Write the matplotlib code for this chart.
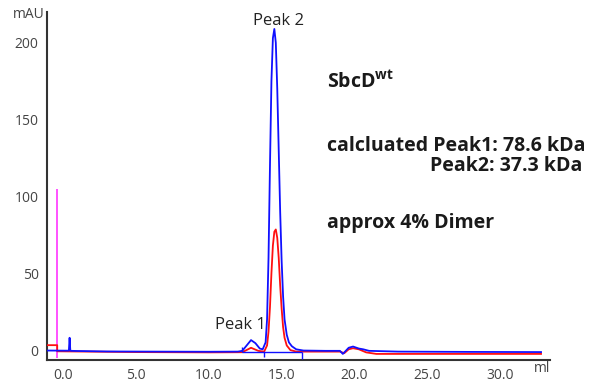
import numpy as np
import matplotlib.pyplot as plt

# blue trace (280 nm), ml vs mAU
blue_x = [-1.1, 0.40, 0.45, 0.50, 0.55, 1.0, 3.0, 6.0, 10.0, 12.0, 12.3, 12.6, 12.9, 13.2, 13.5,
          13.7, 13.9, 14.0, 14.1, 14.2, 14.3, 14.4, 14.5, 14.6, 14.7, 14.8, 14.9, 15.0, 15.1,
          15.2, 15.35, 15.5, 15.7, 16.0, 16.5, 18.0, 19.0, 19.2, 19.35, 19.6, 19.9, 20.3, 20.6,
          21.0, 23.0, 28.0, 32.8]
blue_y = [-0.3, -0.4, 8.0, -0.4, -0.5, -0.6, -0.9, -1.0, -1.1, -1.0, -0.5, 3.0, 6.5, 4.5, 1.0,
          0.5, 5.0, 20, 60, 120, 175, 203, 209, 200, 170, 130, 90, 58, 35,
          20, 10, 5.0, 2.5, 0.5, -0.3, -0.5, -0.5, -2.5, -1.0, 1.5, 2.3, 1.0, 0.5,
          -0.5, -1.0, -1.2, -1.3]

# red trace
red_x = [-1.1, -0.4, -0.4, 5.0, 10.0, 12.3, 12.9, 13.4, 13.8, 14.0, 14.1, 14.2, 14.3, 14.4,
         14.5, 14.6, 14.7, 14.8, 14.9, 15.0, 15.1, 15.2, 15.35, 15.6, 16.0, 19.0, 19.3, 19.6,
         19.9, 20.3, 20.8, 21.5, 25.0, 32.8]
red_y = [3.2, 3.2, -0.8, -1.3, -1.5, -1.4, 1.5, -0.5, -1.0, 3.0, 12, 28, 50, 68,
         77, 78.5, 73, 60, 42, 27, 15, 8, 3.0, 0.0, -1.0, -1.0, -2.0, 0.5,
         1.2, 0.5, -1.5, -2.5, -2.5, -2.5]

# integration markers
base_x = [12.3, 16.4]
base_y = -1.2
mark_x = [12.3, 13.8, 16.4]
mark_lo = [-1.0, -4.5, -5.5]
mark_hi = [2.0, -1.0, -1.5]

inject_x = -0.4
inject_range = (-5, 105)

xticks = [0, 5, 10, 15, 20, 25, 30]
yticks = [0, 50, 100, 150, 200]

plt.rcParams['font.family'] = ['Open Sans', 'DejaVu Sans']

fig = plt.figure(figsize=(5.95, 3.88), dpi=100)
ax = fig.add_axes([0.079, 0.072, 0.845, 0.897])

ax.vlines(inject_x, *inject_range, color='#ff44ff', lw=1.3, zorder=2)
ax.plot(red_x, red_y, color='#ff1010', lw=1.3, zorder=3)
ax.plot(blue_x, blue_y, color='#1010ff', lw=1.3, zorder=4)
ax.hlines(base_y, *base_x, color='#1010ff', lw=1.0, zorder=4)
ax.vlines(mark_x, mark_lo, mark_hi, color='#1010ff', lw=1.0, zorder=4)

ax.set_xlim(-1.1, 33.4)
ax.set_ylim(-6.5, 220)
ax.set_xticks(xticks)
ax.set_xticklabels(['%.1f' % v for v in xticks])
ax.set_yticks(yticks)
ax.tick_params(length=0, labelsize=10, labelcolor='#444444', pad=6)
for s in ['top', 'right']:
    ax.spines[s].set_visible(False)
for s in ['left', 'bottom']:
    ax.spines[s].set_color('#333333')
    ax.spines[s].set_linewidth(1.5)

fig.text(0.075, 0.963, 'mAU', ha='right', va='center', fontsize=10, color='#444444')
fig.text(0.911, 0.05, 'ml', ha='center', va='center', fontsize=10, color='#444444')

ax.text(14.8, 214, 'Peak 2', ha='center', va='center', fontsize=12, color='#222222')
ax.text(12.2, 16, 'Peak 1', ha='center', va='center', fontsize=12, color='#222222')

tkw = dict(fontsize=14, fontweight='bold', color='#1a1a1a', transform=fig.transFigure)
fig.text(327 / 595, 1 - 82 / 388, r'SbcD$^{\mathregular{wt}}$', ha='left', va='center', **tkw)
fig.text(327 / 595, 1 - 146 / 388, 'calcluated Peak1: 78.6 kDa', ha='left', va='center', **tkw)
fig.text(582 / 595, 1 - 166 / 388, 'Peak2: 37.3 kDa', ha='right', va='center', **tkw)
fig.text(327 / 595, 1 - 223 / 388, 'approx 4% Dimer', ha='left', va='center', **tkw)

fig.savefig('out.png', dpi=100)
